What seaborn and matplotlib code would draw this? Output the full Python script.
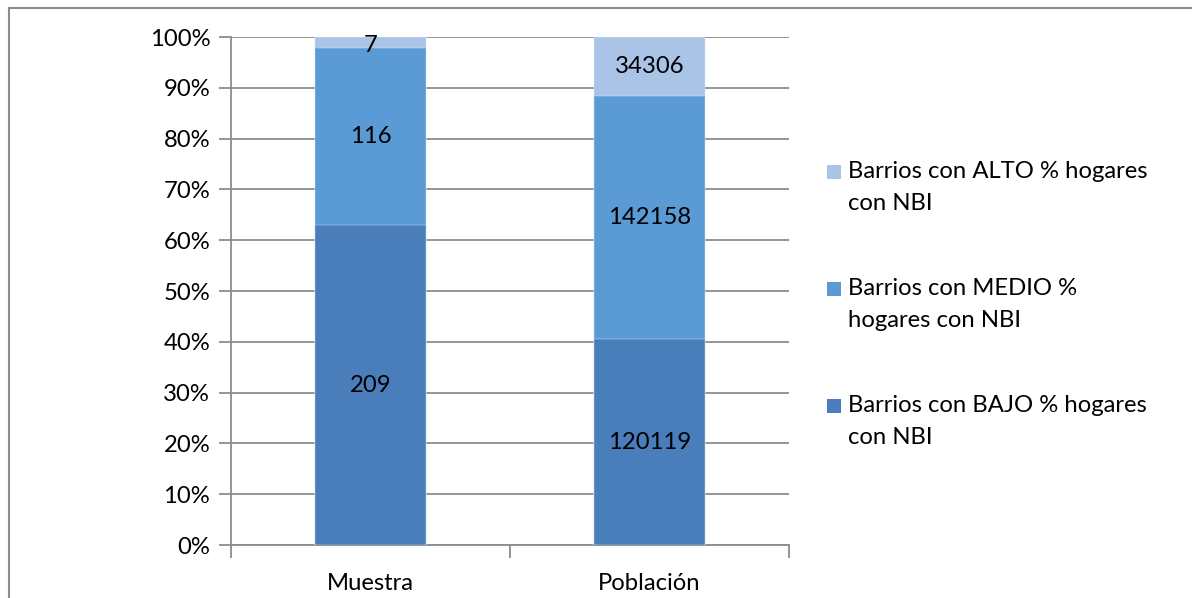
import numpy as np
import pandas as pd
import matplotlib
matplotlib.use("Agg")
import matplotlib.pyplot as plt
from matplotlib.patches import Rectangle
import seaborn as sns

# Data: number of neighbourhoods by NBI level
categories = ["Muestra", "Población"]
bajo = [209, 120119]
medio = [116, 142158]
alto = [7, 34306]
series_names = [
    "Barrios con BAJO % hogares\ncon NBI",
    "Barrios con MEDIO %\nhogares con NBI",
    "Barrios con ALTO % hogares\ncon NBI",
]
colors = ["#4A7EBB", "#5B9BD5", "#A9C4E6"]
tick_labels = ["0%", "10%", "20%", "30%", "40%", "50%", "60%", "70%", "80%", "90%", "100%"]

sns.set_theme(style="white")
plt.rcParams["font.family"] = ["Lato", "DejaVu Sans"]
FS = 17.2
grid_col = "#8C8C8C"

counts = np.array([bajo, medio, alto], dtype=float)
shares = counts / counts.sum(axis=0) * 100
tops = np.cumsum(shares, axis=0)
bottoms = tops - shares

fig = plt.figure(figsize=(11.92, 5.98), dpi=100)
ax = fig.add_axes([231 / 1192, 1 - 545 / 598, (789 - 231) / 1192, (545 - 37) / 598])

# Stacked bars: draw the cumulative tops from tallest to shortest
for i in range(len(series_names) - 1, -1, -1):
    df = pd.DataFrame({"cat": categories, "val": tops[i]})
    sns.barplot(data=df, x="cat", y="val", color=colors[i], width=0.4,
                saturation=1, ax=ax, zorder=3, edgecolor="#DDE8F5",
                linewidth=0.3)

# Value labels centred in each segment
for i in range(len(series_names)):
    for j in range(len(categories)):
        mid = bottoms[i, j] + shares[i, j] / 2
        if shares[i, j] < 5:
            mid -= 0.6
        ax.text(j, mid, f"{int(counts[i, j])}", ha="center", va="center",
                fontsize=FS, color="black", zorder=5)

ax.set_xlim(-0.5, 1.5)
ax.set_ylim(0, 100)
ax.set_yticks(np.arange(0, 101, 10))
ax.set_yticklabels(tick_labels)
ax.set_xlabel("")
ax.set_ylabel("")
ax.yaxis.grid(True, color=grid_col, linewidth=1.3, zorder=0)
ax.set_axisbelow(True)
for side in ["top", "right"]:
    ax.spines[side].set_visible(False)
for side in ["left", "bottom"]:
    ax.spines[side].set_color(grid_col)
    ax.spines[side].set_linewidth(1.3)

ax.tick_params(axis="y", which="major", length=9, width=1.3, color=grid_col,
               labelsize=FS, labelcolor="black", pad=6, left=True)
ax.tick_params(axis="x", which="major", length=0, labelsize=FS,
               labelcolor="black", pad=20)
ax.set_xticks([0, 1])
ax.set_xticklabels(categories)
ax.set_xticks([-0.5, 0.5, 1.5], minor=True)
ax.tick_params(axis="x", which="minor", length=9, width=1.3, color=grid_col,
               bottom=True)

# Legend drawn as squares with wrapped labels
legend_rows = [(2, 172), (1, 289), (0, 406)]
for idx, ypix in legend_rows:
    fig.patches.append(Rectangle((827 / 1192, 1 - (ypix + 7) / 598), 14 / 1192, 14 / 598,
                                 transform=fig.transFigure, facecolor=colors[idx],
                                 edgecolor="none"))
    fig.text(848 / 1192, 1 - (ypix - 11) / 598, series_names[idx], ha="left", va="top",
             fontsize=FS, color="black", linespacing=1.62)

# Chart-area frame
fig.patches.append(Rectangle((8.5 / 1192, -0.1), 1.2, 1 - 8.5 / 598 + 0.1,
                             transform=fig.transFigure, facecolor="none",
                             edgecolor="#8C8C8C", linewidth=1.5))

fig.savefig("out.png", dpi=100)
